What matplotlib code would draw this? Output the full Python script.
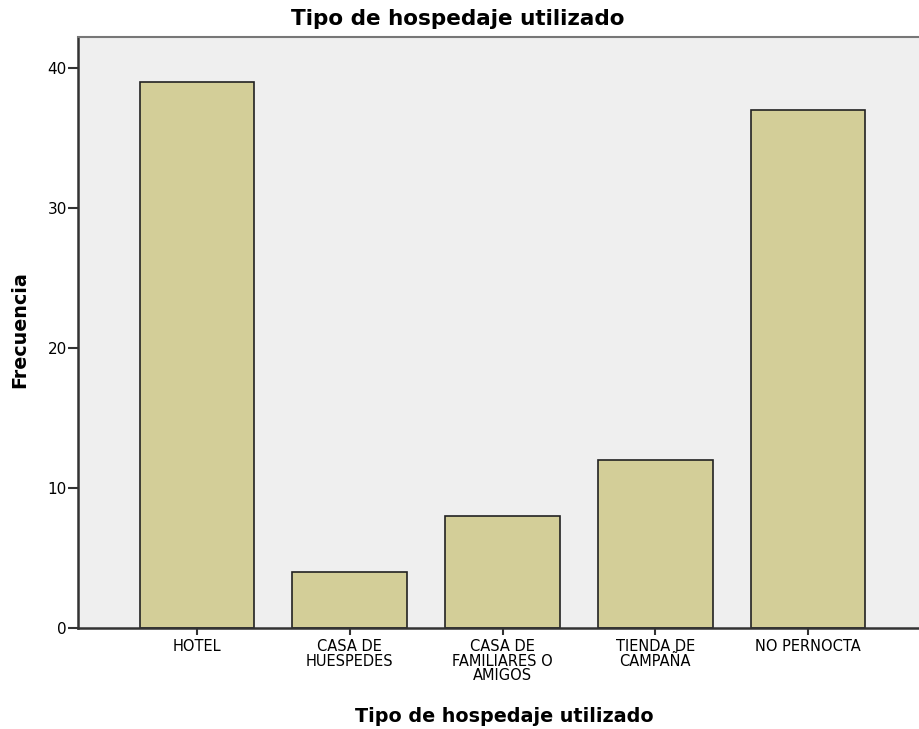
import numpy as np
import matplotlib.pyplot as plt

categorias = ['HOTEL', 'CASA DE\nHUESPEDES', 'CASA DE\nFAMILIARES O\nAMIGOS',
              'TIENDA DE\nCAMPAÑA', 'NO PERNOCTA']
frecuencia = [39, 4, 8, 12, 37]

fig = plt.figure(figsize=(9.19, 7.29), dpi=100)
W, H = 919, 729
ax = fig.add_axes([78 / W, (H - 628) / H, (927 - 78) / W, (628 - 37) / H])
ax.set_facecolor('#efefef')

x = np.arange(len(categorias))
ax.bar(x, frecuencia, width=0.75, color='#d3ce98', edgecolor='#222222', linewidth=1.2, zorder=2)

ax.set_xlim(-0.778, 4.778)
ax.set_ylim(0, 42.2)
ax.set_yticks([0, 10, 20, 30, 40])
ax.set_xticks(x)
ax.set_xticklabels(categorias, fontsize=10.5, linespacing=0.95, va='top')
ax.tick_params(axis='y', labelsize=11, length=7, width=1.5, color='#333333', pad=1)
ax.tick_params(axis='x', length=5, width=1.5, color='#333333', pad=3)

for s in ['left', 'bottom']:
    ax.spines[s].set_linewidth(1.8)
    ax.spines[s].set_color('#333333')
ax.spines['top'].set_linewidth(1.5)
ax.spines['top'].set_color('#777777')
ax.spines['right'].set_visible(False)

fig.text(458 / W, 1 - 19 / H, 'Tipo de hospedaje utilizado', ha='center', va='center',
         fontsize=15.5, fontweight='bold')
fig.text(504 / W, 1 - 717 / H, 'Tipo de hospedaje utilizado', ha='center', va='center',
         fontsize=13.8, fontweight='bold')
fig.text(20 / W, 1 - 330 / H, 'Frecuencia', ha='center', va='center', rotation=90,
         fontsize=13.8, fontweight='bold')

fig.savefig('out.png', dpi=100)
